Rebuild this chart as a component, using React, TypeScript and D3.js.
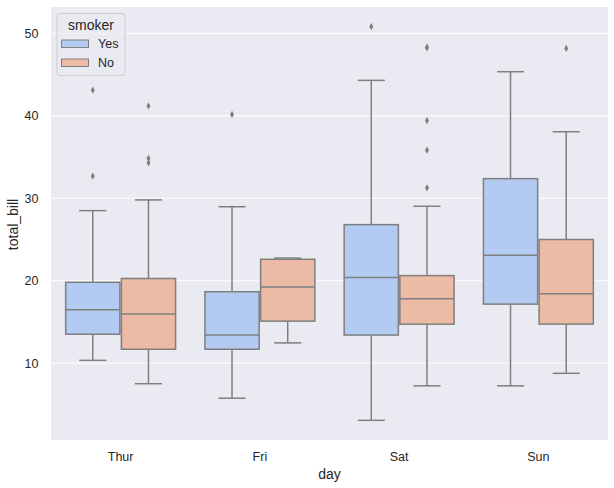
import React from "react";
import * as d3 from "d3";

const days = ["Thur", "Fri", "Sat", "Sun"];
const smokers = ["Yes", "No"];
// per day, per smoker: [whiskerLow, q1, median, q3, whiskerHigh]
const yesStats = [
  [10.34, 13.51, 16.47, 19.81, 28.5],
  [5.75, 11.69, 13.42, 18.66, 28.97],
  [3.07, 13.41, 20.39, 26.8, 44.3],
  [7.25, 17.16, 23.1, 32.38, 45.35],
];
const noStats = [
  [7.51, 11.69, 15.95, 20.27, 29.8],
  [12.46, 15.1, 19.23, 22.6, 22.75],
  [7.25, 14.73, 17.82, 20.62, 29.03],
  [8.77, 14.74, 18.43, 25.0, 38.07],
];
const yesOutliers = [[32.68, 43.11], [40.17], [50.81], []];
const noOutliers = [[34.3, 34.83, 41.19], [], [31.27, 35.83, 39.42, 48.27, 48.33], [48.17]];
const yTicks = [10, 20, 30, 40, 50];
const colors = ["#b3caf3", "#ecbaa5"];

const W = 614, H = 488;
const m = { left: 51, right: 608, top: 7, bottom: 440 };
const font = "'Liberation Sans', Arial, sans-serif";
const lineColor = "#7f7f7f";

export default function App() {
  const x = d3.scaleBand().domain(days).range([m.left, m.right]).paddingInner(0).paddingOuter(0);
  const y = d3.scaleLinear().domain([0.683, 53.197]).range([m.bottom, m.top]);
  const hue = d3.scaleBand().domain(smokers).range([0, x.bandwidth() * 0.8]);
  const boxW = hue.bandwidth() - 1.5;

  const stats = [yesStats, noStats];
  const outl = [yesOutliers, noOutliers];

  const diamond = (cx: number, cy: number) =>
    `M${cx},${cy - 3.6}L${cx + 2},${cy}L${cx},${cy + 3.6}L${cx - 2},${cy}Z`;

  return (
    <svg width={W} height={H} style={{ position: "absolute", left: 0, top: 0 }}>
      <rect x={0} y={0} width={W} height={H} fill="white" />
      <rect x={m.left} y={m.top} width={m.right - m.left} height={m.bottom - m.top} fill="#eaeaf2" />
      {yTicks.map((t) => (
        <g key={t}>
          <line x1={m.left} x2={m.right} y1={y(t)} y2={y(t)} stroke="white" strokeWidth={1} />
          <text x={38.5} y={y(t)} dy="0.35em" textAnchor="end" fontFamily={font} fontSize={12.5} fill="#262626">
            {t}
          </text>
        </g>
      ))}
      {days.map((d, i) => {
        const start = (x(d) as number) + x.bandwidth() * 0.1;
        return (
          <g key={d}>
            {smokers.map((s, j) => {
              const [lo, q1, med, q3, hi] = stats[j][i];
              const cx = start + (hue(s) as number) + hue.bandwidth() / 2;
              const x0 = cx - boxW / 2;
              const capW = boxW * 0.5;
              return (
                <g key={s}>
                  <line x1={cx} x2={cx} y1={y(lo)} y2={y(q1)} stroke={lineColor} strokeWidth={1.5} />
                  <line x1={cx} x2={cx} y1={y(q3)} y2={y(hi)} stroke={lineColor} strokeWidth={1.5} />
                  <line x1={cx - capW / 2} x2={cx + capW / 2} y1={y(lo)} y2={y(lo)} stroke={lineColor} strokeWidth={1.5} />
                  <line x1={cx - capW / 2} x2={cx + capW / 2} y1={y(hi)} y2={y(hi)} stroke={lineColor} strokeWidth={1.5} />
                  <rect x={x0} y={y(q3)} width={boxW} height={y(q1) - y(q3)} fill={colors[j]} stroke={lineColor} strokeWidth={1.5} />
                  <line x1={x0} x2={x0 + boxW} y1={y(med)} y2={y(med)} stroke={lineColor} strokeWidth={1.5} />
                  {outl[j][i].map((o, k) => (
                    <path key={k} d={diamond(cx, y(o))} fill={lineColor} />
                  ))}
                </g>
              );
            })}
            <text x={(x(d) as number) + x.bandwidth() / 2} y={457} dy="0.35em" textAnchor="middle" fontFamily={font} fontSize={12.5} fill="#262626">
              {d}
            </text>
          </g>
        );
      })}
      <text x={(m.left + m.right) / 2} y={474} dy="0.35em" textAnchor="middle" fontFamily={font} fontSize={14} fill="#262626">
        day
      </text>
      <text transform={`translate(13.5,${(m.top + m.bottom) / 2 + 1}) rotate(-90)`} dy="0.35em" textAnchor="middle" fontFamily={font} fontSize={14} fill="#262626">
        total_bill
      </text>
      <g>
        <rect x={57} y={13.5} width={68} height={62} rx={3} fill="#eaeaf2" fillOpacity={0.8} stroke="#cccccc" strokeWidth={1} />
        <text x={91} y={25} dy="0.35em" textAnchor="middle" fontFamily={font} fontSize={14} fill="#262626">
          smoker
        </text>
        {smokers.map((s, j) => (
          <g key={s}>
            <rect x={61.5} y={40 + j * 19} width={27} height={7.5} fill={colors[j]} stroke={lineColor} strokeWidth={1} />
            <text x={98} y={44 + j * 19} dy="0.35em" fontFamily={font} fontSize={12.5} fill="#262626">
              {s}
            </text>
          </g>
        ))}
      </g>
    </svg>
  );
}
